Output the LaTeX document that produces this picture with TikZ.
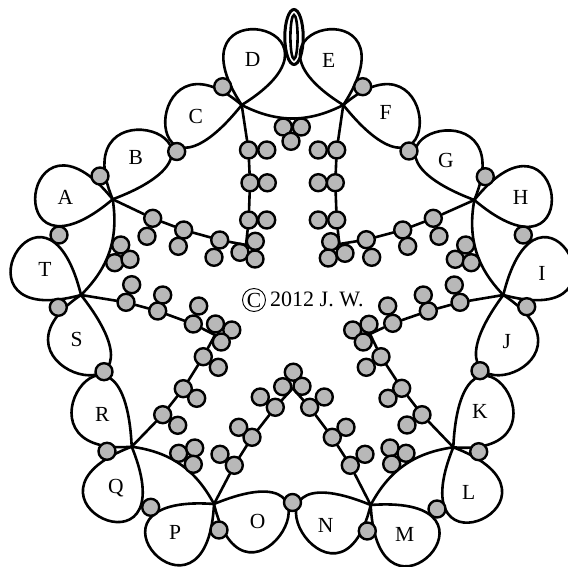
\documentclass[tikz,border=0pt]{standalone}
\usepackage{fontspec}
\setmainfont{Liberation Serif}
\definecolor{beadgray}{RGB}{184,184,184}
\tikzset{
  tatline/.style={line width=2.6pt, line cap=round, line join=round},
  bead/.style={circle, draw, fill=beadgray, line width=2.4pt, minimum size=17pt, inner sep=0pt},
  loopname/.style={font=\fontsize{21.5}{21.5}\selectfont, inner sep=0pt},
}
\begin{document}
\begin{tikzpicture}[x=1pt,y=1pt]
\useasboundingbox (0,-567) rectangle (568,0);
\coordinate (jcd) at (241.7,-105);
\coordinate (jef) at (343.3,-105);
\coordinate (jgh) at (474.3,-200);
\coordinate (jij) at (503.3,-295);
\coordinate (jkl) at (453.3,-447.3);
\coordinate (jmn) at (370.7,-505);
\coordinate (jop) at (214,-504);
\coordinate (jqr) at (131.7,-446.7);
\coordinate (jst) at (81,-295);
\coordinate (jab) at (112.7,-199.3);
\coordinate (hubl) at (246,-245);
\coordinate (hubr) at (339.3,-244);
\coordinate (hubsl) at (215,-335);
\coordinate (hubsr) at (370,-334);
\coordinate (hubb) at (292.7,-388.3);
\draw[tatline] (jcd) to[bend right=27] (jef);
\draw[tatline] (jgh) to[bend right=27] (jij);
\draw[tatline] (jkl) to[bend right=27] (jmn);
\draw[tatline] (jop) to[bend right=27] (jqr);
\draw[tatline] (jst) to[bend right=27] (jab);
\draw[tatline] (jab) .. controls +(-90,112) and +(-116,-98) .. (jab);
\draw[tatline] (jab) .. controls +(-50.9,121.7) and +(155.7,58.7) .. (jab);
\draw[tatline] (jcd) .. controls +(-100,86) and +(-104,-130) .. (jcd);
\draw[tatline] (jcd) .. controls +(-78.7,120.2) and +(129,80) .. (jcd);
\draw[tatline] (jef) .. controls +(78.7,120.2) and +(-129,80) .. (jef);
\draw[tatline] (jef) .. controls +(100,86) and +(104,-130) .. (jef);
\draw[tatline] (jgh) .. controls +(50.9,121.7) and +(-155.7,58.7) .. (jgh);
\draw[tatline] (jgh) .. controls +(90,112) and +(116,-98) .. (jgh);
\draw[tatline] (jij) .. controls +(138.6,-37.7) and +(36.2,147.4) .. (jij);
\draw[tatline] (jij) .. controls +(115,-75) and +(-100,-135) .. (jij);
\draw[tatline] (jkl) .. controls +(131.5,-10.8) and +(7.7,166.4) .. (jkl);
\draw[tatline] (jkl) .. controls +(134.4,-50.9) and +(-57.4,-140.6) .. (jkl);
\draw[tatline] (jmn) .. controls +(7,-143.5) and +(151.4,11.2) .. (jmn);
\draw[tatline] (jmn) .. controls +(-32.5,-135) and +(-150.5,62) .. (jmn);
\draw[tatline] (jop) .. controls +(32.5,-135) and +(150.5,62) .. (jop);
\draw[tatline] (jop) .. controls +(-7,-143.5) and +(-151.4,11.2) .. (jop);
\draw[tatline] (jqr) .. controls +(-134.4,-50.9) and +(57.4,-140.6) .. (jqr);
\draw[tatline] (jqr) .. controls +(-131.5,-10.8) and +(-7.7,166.4) .. (jqr);
\draw[tatline] (jst) .. controls +(-112,-75) and +(106,-135) .. (jst);
\draw[tatline] (jst) .. controls +(-138.6,-37.7) and +(-36.2,147.4) .. (jst);
\draw[line width=3pt] (294,-37) ellipse (9.2 and 27.5);
\draw[line width=2.6pt] (294,-37) ellipse (3.6 and 22);
% beads on the outer ring
\node[bead] (ab) at (100,-176) {};
\node[bead] (bc) at (176.7,-151.5) {};
\node[bead] (cd) at (222.7,-86.7) {};
\node[bead] (ef) at (362.7,-86.7) {};
\node[bead] (fg) at (409,-151) {};
\node[bead] (gh) at (485.3,-176.7) {};
\node[bead] (hi) at (523.3,-235) {};
\node[bead] (ij) at (526.7,-306.7) {};
\node[bead] (jk) at (480,-370.7) {};
\node[bead] (kl) at (478.7,-451.7) {};
\node[bead] (lm) at (437,-509) {};
\node[bead] (mn) at (367.3,-531) {};
\node[bead] (no) at (292.5,-502.5) {};
\node[bead] (op) at (219,-530) {};
\node[bead] (pq) at (150.7,-507.3) {};
\node[bead] (qr) at (107,-451.3) {};
\node[bead] (rs) at (104,-371.7) {};
\node[bead] (st) at (58.3,-307.3) {};
\node[bead] (ta) at (59,-235) {};
% beads under the arcs
\node[bead] (top1) at (283.3,-127) {};
\node[bead] (top2) at (301.3,-127) {};
\node[bead] (top3) at (291,-141.3) {};
\node[bead] (rgt1) at (465.7,-245) {};
\node[bead] (rgt2) at (455.3,-259.3) {};
\node[bead] (rgt3) at (471.3,-262.7) {};
\node[bead] (lrt1) at (390,-448) {};
\node[bead] (lrt2) at (406,-453.3) {};
\node[bead] (lrt3) at (391.7,-464) {};
\node[bead] (llf1) at (178.7,-453.3) {};
\node[bead] (llf2) at (194.7,-448) {};
\node[bead] (llf3) at (193.3,-464.3) {};
\node[bead] (lft1) at (120.7,-245) {};
\node[bead] (lft2) at (114.7,-262.7) {};
\node[bead] (lft3) at (130,-259.3) {};
% beads where two chains meet
\node[bead] (hl1) at (255.3,-241.3) {};
\node[bead] (hl2) at (240,-252.3) {};
\node[bead] (hl3) at (255,-259) {};
\node[bead] (hr1) at (330.7,-241.7) {};
\node[bead] (hr2) at (345,-253.3) {};
\node[bead] (hr3) at (328.3,-258) {};
\node[bead] (hsl1) at (215.5,-324) {};
\node[bead] (hsl2) at (231.8,-330) {};
\node[bead] (hsl3) at (221.3,-342) {};
\node[bead] (hsr1) at (369,-324.3) {};
\node[bead] (hsr2) at (352.7,-330) {};
\node[bead] (hsr3) at (363.3,-342) {};
\node[bead] (hb1) at (282.7,-386.7) {};
\node[bead] (hb2) at (293.3,-372.2) {};
\node[bead] (hb3) at (302,-386.3) {};
% chains with their side beads
\node[bead] (cd1) at (248.5,-150) {};
\node[bead] (cd1x) at (266.8,-150) {};
\node[bead] (cd2) at (250,-182.8) {};
\node[bead] (cd2x) at (267.3,-182.8) {};
\node[bead] (cd3) at (248.7,-220) {};
\node[bead] (cd3x) at (266.7,-220) {};
\node[bead] (ef1) at (336.7,-150) {};
\node[bead] (ef1x) at (318.3,-150) {};
\node[bead] (ef2) at (335.3,-182.7) {};
\node[bead] (ef2x) at (318.3,-182.7) {};
\node[bead] (ef3) at (336.7,-220) {};
\node[bead] (ef3x) at (318.3,-220) {};
\node[bead] (ab1) at (152.7,-218.3) {};
\node[bead] (ab1x) at (147,-236.3) {};
\node[bead] (ab2) at (183.7,-230) {};
\node[bead] (ab2x) at (178.3,-246.3) {};
\node[bead] (ab3) at (219.7,-240) {};
\node[bead] (ab3x) at (214,-257.3) {};
\node[bead] (gh1) at (433.3,-218.3) {};
\node[bead] (gh1x) at (439,-236.3) {};
\node[bead] (gh2) at (402.7,-230) {};
\node[bead] (gh2x) at (407.7,-246.3) {};
\node[bead] (gh3) at (366.3,-239.7) {};
\node[bead] (gh3x) at (371.7,-257.3) {};
\node[bead] (st1) at (126,-302.3) {};
\node[bead] (st1x) at (131.7,-284.7) {};
\node[bead] (st2) at (157.7,-311) {};
\node[bead] (st2x) at (162.7,-295) {};
\node[bead] (st3) at (193.3,-324) {};
\node[bead] (st3x) at (198.7,-306) {};
\node[bead] (ij1) at (460,-302.3) {};
\node[bead] (ij1x) at (454.3,-285) {};
\node[bead] (ij2) at (428.3,-311) {};
\node[bead] (ij2x) at (423.3,-295) {};
\node[bead] (ij3) at (392.7,-323.3) {};
\node[bead] (ij3x) at (387.7,-306) {};
\node[bead] (qr1) at (162.7,-414.7) {};
\node[bead] (qr1x) at (177.7,-425.3) {};
\node[bead] (qr2) at (183.3,-388.7) {};
\node[bead] (qr2x) at (196.7,-398.3) {};
\node[bead] (qr3) at (203.3,-356.7) {};
\node[bead] (qr3x) at (218.3,-367.3) {};
\node[bead] (kl1) at (422,-414.7) {};
\node[bead] (kl1x) at (407,-425) {};
\node[bead] (kl2) at (401.7,-388.3) {};
\node[bead] (kl2x) at (388,-398.3) {};
\node[bead] (kl3) at (381,-356.7) {};
\node[bead] (kl3x) at (366.3,-367.3) {};
\node[bead] (op1) at (234.3,-465.3) {};
\node[bead] (op1x) at (220,-454.3) {};
\node[bead] (op2) at (252,-437.3) {};
\node[bead] (op2x) at (238.7,-427.3) {};
\node[bead] (op3) at (275.3,-407.3) {};
\node[bead] (op3x) at (260.3,-397) {};
\node[bead] (mn1) at (350.3,-465.3) {};
\node[bead] (mn1x) at (365,-454.3) {};
\node[bead] (mn2) at (332.3,-437.3) {};
\node[bead] (mn2x) at (346,-427.3) {};
\node[bead] (mn3) at (309.7,-407.3) {};
\node[bead] (mn3x) at (324.3,-397) {};
\draw[tatline] (jcd) -- (cd1);
\draw[tatline] (cd1) -- (cd2);
\draw[tatline] (cd2) -- (cd3);
\draw[tatline] (cd3) -- (hubl);
\draw[tatline] (jab) -- (ab1);
\draw[tatline] (ab1) -- (ab2);
\draw[tatline] (ab2) -- (ab3);
\draw[tatline] (ab3) -- (hubl);
\draw[tatline] (jef) -- (ef1);
\draw[tatline] (ef1) -- (ef2);
\draw[tatline] (ef2) -- (ef3);
\draw[tatline] (ef3) -- (hubr);
\draw[tatline] (jgh) -- (gh1);
\draw[tatline] (gh1) -- (gh2);
\draw[tatline] (gh2) -- (gh3);
\draw[tatline] (gh3) -- (hubr);
\draw[tatline] (jst) -- (st1);
\draw[tatline] (st1) -- (st2);
\draw[tatline] (st2) -- (st3);
\draw[tatline] (st3) -- (hubsl);
\draw[tatline] (jqr) -- (qr1);
\draw[tatline] (qr1) -- (qr2);
\draw[tatline] (qr2) -- (qr3);
\draw[tatline] (qr3) -- (hubsl);
\draw[tatline] (jij) -- (ij1);
\draw[tatline] (ij1) -- (ij2);
\draw[tatline] (ij2) -- (ij3);
\draw[tatline] (ij3) -- (hubsr);
\draw[tatline] (jkl) -- (kl1);
\draw[tatline] (kl1) -- (kl2);
\draw[tatline] (kl2) -- (kl3);
\draw[tatline] (kl3) -- (hubsr);
\draw[tatline] (jop) -- (op1);
\draw[tatline] (op1) -- (op2);
\draw[tatline] (op2) -- (op3);
\draw[tatline] (op3) -- (hubb);
\draw[tatline] (jmn) -- (mn1);
\draw[tatline] (mn1) -- (mn2);
\draw[tatline] (mn2) -- (mn3);
\draw[tatline] (mn3) -- (hubb);
% loop names
\node[loopname] (la) at (65.3,-197.3) {A};
\node[loopname] (lb) at (135.7,-157.7) {B};
\node[loopname] (lc) at (195.7,-116.7) {C};
\node[loopname] (ld) at (252.7,-59.3) {D};
\node[loopname] (le) at (328.7,-60.3) {E};
\node[loopname] (lf) at (385.7,-112.7) {F};
\node[loopname] (lg) at (446,-160) {G};
\node[loopname] (lh) at (520.7,-197.3) {H};
\node[loopname] (li) at (542,-273.3) {I};
\node[loopname] (lj) at (506.7,-341.7) {J};
\node[loopname] (lk) at (480,-411.7) {K};
\node[loopname] (ll) at (468.7,-492.7) {L};
\node[loopname] (lm) at (404.7,-534) {M};
\node[loopname] (ln) at (325.7,-525) {N};
\node[loopname] (lo) at (257.7,-521.7) {O};
\node[loopname] (lp) at (175,-532.7) {P};
\node[loopname] (lq) at (116,-487.7) {Q};
\node[loopname] (lr) at (102.3,-414) {R};
\node[loopname] (ls) at (76.7,-339.3) {S};
\node[loopname] (lt) at (45,-269.7) {T};
\node[loopname, draw, circle, line width=0.9pt, minimum size=23pt] (copy) at (254,-300) {C};
\node[loopname, font=\fontsize{22}{22}\selectfont, anchor=base west] (year) at (270,-306.7) {2012 J. W.};
\end{tikzpicture}
\end{document}
